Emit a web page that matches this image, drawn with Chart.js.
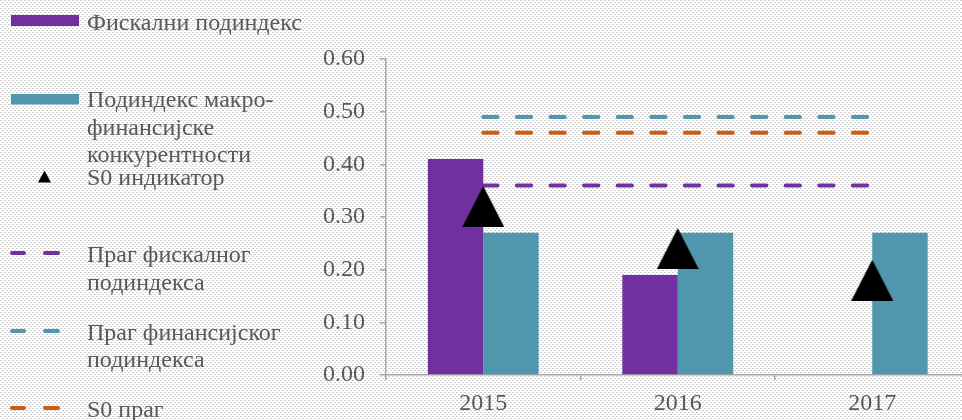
<!DOCTYPE html>
<html>
<head>
<meta charset="utf-8">
<script src="https://cdn.jsdelivr.net/npm/chart.js@4.4.1/dist/chart.umd.min.js"></script>
<style>
    html, body { margin: 0; padding: 0; width: 962px; height: 420px; overflow: hidden; background: #fff; }
    canvas { position: absolute; left: 0; top: 0; }
</style>
</head>
<body>
<canvas id="chartcontainer" width="980" height="420"></canvas>
<script>
var years = ["2015", "2016", "2017"];
var fiscalSubindex = [0.41, 0.19, null];
var macroFinSubindex = [0.27, 0.27, 0.27];
var s0Indicator = [0.32, 0.24, 0.18];
var fiscalThreshold = [0.36, 0.36, 0.36];
var finThreshold = [0.49, 0.49, 0.49];
var s0Threshold = [0.46, 0.46, 0.46];

var seriesNames = [
    ["Фискални подиндекс"],
    ["Подиндекс макро-", "финансијске", "конкурентности"],
    ["S0 индикатор"],
    ["Праг фискалног", "подиндекса"],
    ["Праг финансијског", "подиндекса"],
    ["S0 праг"]
];

var PURPLE = "#7030a0";
var TEAL = "#5096ad";
var ORANGE = "#cc5c14";
var TEXT = "#595959";
var AXIS = "#a6a6a6";
var FONT = "'Liberation Serif', 'Times New Roman', serif";

// dotted page background
var tile = document.createElement("canvas");
tile.width = 4; tile.height = 4;
var tctx = tile.getContext("2d");
tctx.fillStyle = "#ffffff";
tctx.fillRect(0, 0, 4, 4);
tctx.fillStyle = "#cccccc";
tctx.fillRect(0, 0, 2, 1);
tctx.fillRect(2, 2, 2, 1);
document.body.style.background = "url(" + tile.toDataURL() + ")";

// triangle marker, centred in its box like the original
function triangle(w, h) {
    var c = document.createElement("canvas");
    c.width = w; c.height = h;
    var g = c.getContext("2d");
    g.fillStyle = "#000";
    g.beginPath();
    g.moveTo(w / 2, 0);
    g.lineTo(w, h);
    g.lineTo(0, h);
    g.closePath();
    g.fill();
    return c;
}
var bigTriangle = triangle(42, 41);

// legend on the left, drawn by hand
var sideLegend = {
    id: "sideLegend",
    afterDraw: function (chart) {
        var ctx = chart.ctx;
        var ds = chart.data.datasets;
        ctx.save();
        ctx.font = "24px " + FONT;
        ctx.fillStyle = TEXT;
        ctx.textBaseline = "alphabetic";
        ctx.textAlign = "left";
        var baselines = [[30], [107, 134.5, 162], [185], [262, 290], [340, 367], [417]];
        ds.forEach(function (d, i) {
            d.label.forEach(function (line, j) {
                ctx.fillText(line, 87, baselines[i][j]);
            });
        });
        // markers
        ctx.fillStyle = PURPLE;
        ctx.fillRect(11, 15, 68, 11);
        ctx.fillStyle = TEAL;
        ctx.fillRect(11, 94, 68, 10.5);
        ctx.fillStyle = "#000";
        ctx.beginPath();
        ctx.moveTo(44.5, 170.5);
        ctx.lineTo(51, 182.5);
        ctx.lineTo(38, 182.5);
        ctx.closePath();
        ctx.fill();
        ctx.lineWidth = 4;
        ctx.lineCap = "round";
        [[PURPLE, 253], [TEAL, 331], [ORANGE, 408]].forEach(function (m) {
            ctx.strokeStyle = m[0];
            ctx.beginPath();
            ctx.moveTo(12, m[1]); ctx.lineTo(24, m[1]);
            ctx.moveTo(45, m[1]); ctx.lineTo(58, m[1]);
            ctx.stroke();
        });
        ctx.restore();
    }
};

function dashed(label, values, color) {
    return {
        type: "line",
        label: label,
        data: values,
        borderColor: color,
        borderWidth: 4,
        borderDash: [14.3, 19.3],
        borderCapStyle: "round",
        pointRadius: 0,
        fill: false,
        order: 1
    };
}

var options = {
    type: "bar",
    data: {
        labels: years,
        datasets: [
            {
                label: seriesNames[0],
                data: fiscalSubindex,
                backgroundColor: PURPLE,
                categoryPercentage: 0.57,
                barPercentage: 1,
                order: 3
            },
            {
                label: seriesNames[1],
                data: macroFinSubindex,
                backgroundColor: TEAL,
                categoryPercentage: 0.57,
                barPercentage: 1,
                order: 3
            },
            {
                type: "line",
                label: seriesNames[2],
                data: s0Indicator,
                showLine: false,
                pointStyle: bigTriangle,
                order: 0
            },
            dashed(seriesNames[3], fiscalThreshold, PURPLE),
            dashed(seriesNames[4], finThreshold, TEAL),
            dashed(seriesNames[5], s0Threshold, ORANGE)
        ]
    },
    options: {
        responsive: false,
        animation: false,
        events: [],
        layout: {
            padding: { left: 0, right: 10.5, top: 59, bottom: 0 }
        },
        scales: {
            x: {
                offset: true,
                grid: {
                    offset: true,
                    drawOnChartArea: false,
                    drawTicks: true,
                    tickLength: 5,
                    color: AXIS,
                    lineWidth: 1.5
                },
                border: { color: AXIS, width: 1.5 },
                ticks: {
                    color: TEXT,
                    font: { family: FONT, size: 24 },
                    padding: 9,
                    maxRotation: 0
                },
                afterFit: function (scale) { scale.height = 45; }
            },
            y: {
                min: 0,
                max: 0.6,
                grid: {
                    drawOnChartArea: false,
                    drawTicks: true,
                    tickLength: 6,
                    color: AXIS,
                    lineWidth: 1.5
                },
                border: { color: AXIS, width: 1.5 },
                ticks: {
                    stepSize: 0.1,
                    color: TEXT,
                    font: { family: FONT, size: 24 },
                    padding: 15,
                    callback: function (v) { return v.toFixed(2); }
                },
                afterFit: function (scale) { scale.width = 386; }
            }
        },
        plugins: {
            legend: { display: false },
            tooltip: { enabled: false }
        }
    },
    plugins: [sideLegend]
};

const ctx = document.getElementById("chartcontainer").getContext("2d");
const chart = new Chart(ctx, options);
</script>
</body>
</html>
